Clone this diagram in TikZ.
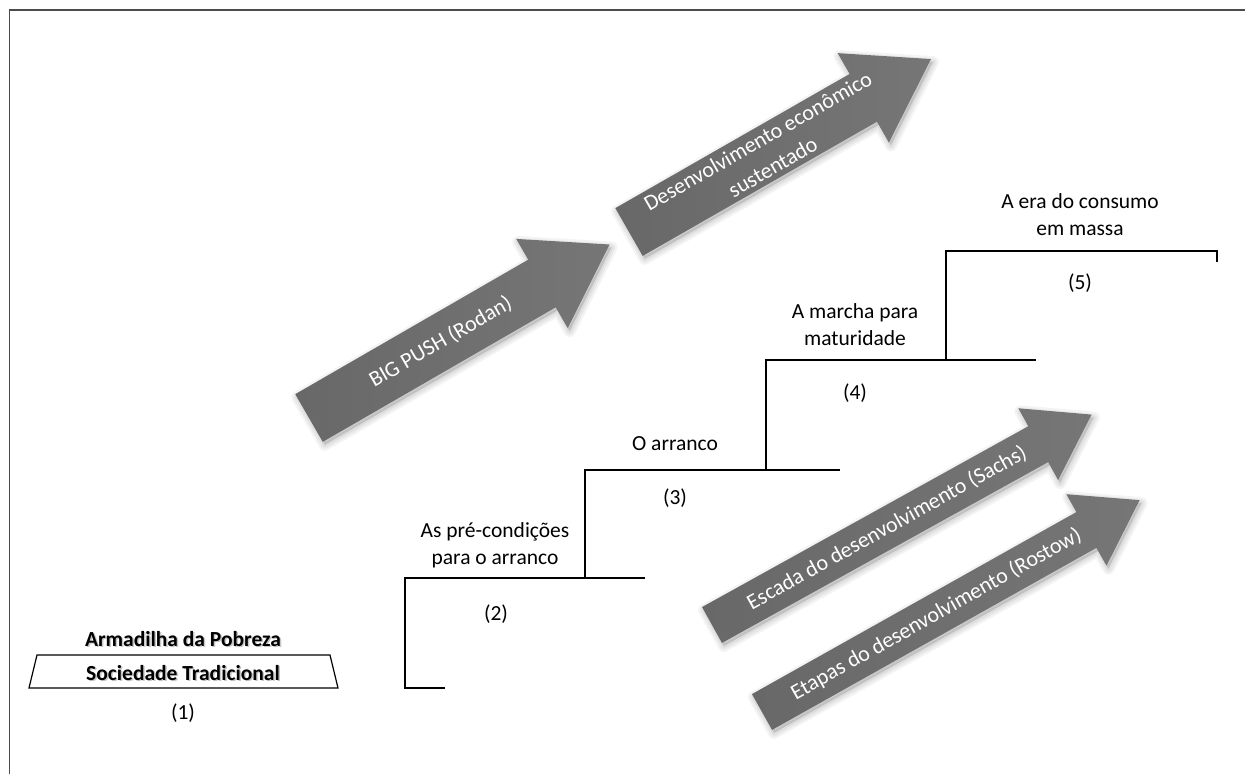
\documentclass[tikz,border=0pt]{standalone}
\usepackage{fontspec}
\setmainfont{Carlito}
\newcommand{\garrow}[9]{% name, tail, angle, L, w, H, h, text pos, text
  \begin{scope}[shift={#2}, shift={(2,3)}, rotate=#3]
    \foreach \lw in {12,8,4}{
      \filldraw[black, opacity=0.045, line width=\lw pt, line join=round]
        (0,{-#5/2}) -- ({#4-#7},{-#5/2}) -- ({#4-#7},{-#6/2}) -- (#4,0) -- ({#4-#7},{#6/2}) -- ({#4-#7},{#5/2}) -- (0,{#5/2}) -- cycle;
    }
  \end{scope}
  \begin{scope}[shift={#2}, rotate=#3]
    \path[arrfill]
      (0,{-#5/2}) -- ({#4-#7},{-#5/2}) -- ({#4-#7},{-#6/2}) -- (#4,0) -- ({#4-#7},{#6/2}) -- ({#4-#7},{#5/2}) -- (0,{#5/2}) -- cycle;
    \node[arrtext, rotate=#3] (#1) at (#8,0) {#9};
  \end{scope}}
\begin{document}
\begin{tikzpicture}[x=1pt,y=-1pt,
  stair/.style={line width=1.2pt, black},
  lbl/.style={font=\fontsize{21.5}{27}\selectfont, align=center, inner sep=0pt},
  btext/.style={font=\bfseries\fontsize{21.5}{27}\selectfont, align=center, inner sep=0pt},
  arrtext/.style={font=\fontsize{22}{30}\selectfont, text=white, align=center, inner sep=0pt},
  arrfill/.style={left color={rgb,255:red,104;green,104;blue,104}, right color={rgb,255:red,118;green,118;blue,118}},
]
\useasboundingbox (0,0) rectangle (1245,774);
\fill[white] (0,0) rectangle (1245,774);
% frame
\draw[line width=1.6pt, black!70] (9.5,774) -- (9.5,10) -- (1245,10);

% block arrows
\garrow{bigpush}{(309,418)}{30}{347}{55}{103}{78}{152}{BIG PUSH (Rodan)}
\garrow{desenv}{(629,232)}{29.8}{348}{55}{103}{78}{157}{Desenvolvimento econômico\\sustentado}
\garrow{sachs}{(712,625)}{29}{434}{41}{82}{61}{200}{Escada do desenvolvimento (Sachs)}
\garrow{rostow}{(762,712)}{29.3}{433}{41}{82}{61}{200}{Etapas do desenvolvimento (Rostow)}

% trapezoid (1)
\draw[stair] (37,655) -- (330,655) -- (338,688) -- (29,688) -- cycle;
\node[btext, text=black!22] (armsh) at (184.5,640.5) {Armadilha da Pobreza};
\node[btext] (arm) at (183,639) {Armadilha da Pobreza};
\node[btext, text=black!22] (socsh) at (184.5,674.5) {Sociedade Tradicional};
\node[btext] (soc) at (183,673) {Sociedade Tradicional};
\node[lbl] (n1) at (183,713) {(1)};

% staircase
\draw[stair] (445,688) -- (405,688) -- (405,578) -- (645,578);
\draw[stair] (585,578) -- (585,470) -- (840,470);
\draw[stair] (766,470) -- (766,360) -- (1036,360);
\draw[stair] (946,360) -- (946,251) -- (1217,251) -- (1217,262);

\node[lbl] (s2) at (495,545) {As pré-condições\\para o arranco};
\node[lbl] (n2) at (496,614) {(2)};
\node[lbl] (s3) at (675,444) {O arranco};
\node[lbl] (n3) at (675,498) {(3)};
\node[lbl] (s4) at (855,325) {A marcha para\\maturidade};
\node[lbl] (n4) at (855,393) {(4)};
\node[lbl] (s5) at (1080,215) {A era do consumo\\em massa};
\node[lbl] (n5) at (1080,283) {(5)};
\end{tikzpicture}
\end{document}
